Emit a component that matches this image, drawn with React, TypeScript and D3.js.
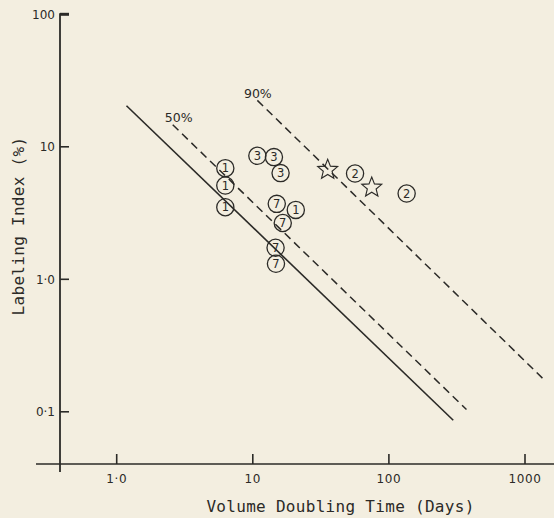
import React from "react";
import * as d3 from "d3";

// Volume doubling time (days) vs labeling index (%)
const xTicks = [1, 10, 100, 1000];
const xTickLabels = ["1·0", "10", "100", "1000"];
const yTicks = [0.1, 1, 10, 100];
const yTickLabels = ["0·1", "1·0", "10", "100"];

// Circled markers: [doubling time, labeling index], grouped by the digit drawn inside
const group1 = [
  [6.28, 6.9],
  [6.28, 5.1],
  [6.28, 3.5],
  [20.7, 3.34],
];
const group3 = [
  [10.8, 8.55],
  [14.3, 8.36],
  [16.0, 6.33],
];
const group7 = [
  [15.0, 3.71],
  [16.6, 2.66],
  [14.7, 1.73],
  [14.8, 1.31],
];
const group2 = [
  [56.4, 6.28],
  [135, 4.44],
];
const stars = [
  [35.5, 6.82],
  [74.8, 5.01],
];

// Reference lines (end points in data units)
const solidLine = [
  [1.18, 20.4],
  [297, 0.0864],
];
const line50 = [
  [2.58, 14.67],
  [371.6, 0.104],
];
const line90 = [
  [10.8, 22.4],
  [1419, 0.17],
];

const W = 554;
const H = 518;
const INK = "#2b2a27";
const BG = "#f3eee0";

const x = d3.scaleLog().domain([1, 1000]).range([116.7, 525]);
const y = d3.scaleLog().domain([1, 100]).range([279.3, 14.3]);

const axisX = 60; // vertical axis position
const axisY = 464; // horizontal axis position

const lineGen = d3
  .line<number[]>()
  .x((d) => x(d[0]))
  .y((d) => y(d[1]));

const starPath = (() => {
  const pts: [number, number][] = [];
  for (let i = 0; i < 10; i++) {
    const r = i % 2 === 0 ? 10.5 : 4.6;
    const a = -Math.PI / 2 + (i * Math.PI) / 5;
    pts.push([r * Math.cos(a), r * Math.sin(a)]);
  }
  return d3.line()(pts) + "Z";
})();

const groups: [number[][], string][] = [
  [group1, "1"],
  [group3, "3"],
  [group7, "7"],
  [group2, "2"],
];

const tickFont = "'DejaVu Sans', sans-serif";
const titleFont = "'DejaVu Sans Mono', monospace";

export default function App() {
  return (
    <svg
      width={W}
      height={H}
      viewBox={`0 0 ${W} ${H}`}
      style={{ position: "fixed", left: 0, top: 0, background: BG }}
    >
      <rect width={W} height={H} fill={BG} />

      {/* axes */}
      <line x1={axisX} x2={axisX} y1={y(100) - 1} y2={472} stroke={INK} strokeWidth={1.8} />
      <line x1={36} x2={W} y1={axisY} y2={axisY} stroke={INK} strokeWidth={1.6} />

      {/* y ticks */}
      {yTicks.map((t, i) => (
        <g key={"yt" + i}>
          <line
            x1={axisX}
            x2={axisX + 9}
            y1={y(t)}
            y2={y(t)}
            stroke={INK}
            strokeWidth={t === 100 ? 3 : 1.6}
          />
          <text
            x={axisX - 5}
            y={y(t)}
            dy="0.36em"
            textAnchor="end"
            fontFamily={tickFont}
            fontSize={12}
            fill={INK}
          >
            {yTickLabels[i]}
          </text>
        </g>
      ))}

      {/* x ticks */}
      {xTicks.map((t, i) => (
        <g key={"xt" + i}>
          <line x1={x(t)} x2={x(t)} y1={axisY} y2={axisY - 10} stroke={INK} strokeWidth={1.6} />
          <text
            x={x(t)}
            y={axisY + 15}
            dy="0.36em"
            textAnchor="middle"
            fontFamily={tickFont}
            fontSize={12}
            letterSpacing={0.6}
            fill={INK}
          >
            {xTickLabels[i]}
          </text>
        </g>
      ))}

      {/* axis titles */}
      <text
        x={340.5}
        y={512}
        textAnchor="middle"
        fontFamily={titleFont}
        fontSize={16}
        letterSpacing={0.3}
        fill={INK}
      >
        Volume Doubling Time (Days)
      </text>
      <text
        transform={`translate(24,226) rotate(-90)`}
        textAnchor="middle"
        fontFamily={titleFont}
        fontSize={16}
        letterSpacing={0.3}
        fill={INK}
      >
        Labeling Index (%)
      </text>

      {/* reference lines */}
      <path d={lineGen(solidLine) || ""} fill="none" stroke={INK} strokeWidth={1.6} />
      <path
        d={lineGen(line50) || ""}
        fill="none"
        stroke={INK}
        strokeWidth={1.5}
        strokeDasharray="8,5"
      />
      <path
        d={lineGen(line90) || ""}
        fill="none"
        stroke={INK}
        strokeWidth={1.5}
        strokeDasharray="8,5"
      />
      <text
        x={x(line50[0][0]) + 6}
        y={y(line50[0][1]) - 2.7}
        textAnchor="middle"
        fontFamily={tickFont}
        fontSize={12.5}
        fill={INK}
      >
        50%
      </text>
      <text
        x={x(line90[0][0]) + 0.5}
        y={y(line90[0][1]) - 2.4}
        textAnchor="middle"
        fontFamily={tickFont}
        fontSize={12.5}
        fill={INK}
      >
        90%
      </text>

      {/* circled markers */}
      {groups.map(([pts, label], gi) =>
        pts.map((d, i) => (
          <g key={`c${gi}-${i}`} transform={`translate(${x(d[0])},${y(d[1])})`}>
            <circle r={8.6} fill="none" stroke={INK} strokeWidth={1.3} />
            <text
              dy="0.36em"
              textAnchor="middle"
              fontFamily={tickFont}
              fontSize={11.5}
              fill={INK}
            >
              {label}
            </text>
          </g>
        ))
      )}

      {/* star markers */}
      {stars.map((d, i) => (
        <path
          key={"s" + i}
          d={starPath}
          transform={`translate(${x(d[0])},${y(d[1]) + 1})`}
          fill="none"
          stroke={INK}
          strokeWidth={1.1}
        />
      ))}
    </svg>
  );
}
